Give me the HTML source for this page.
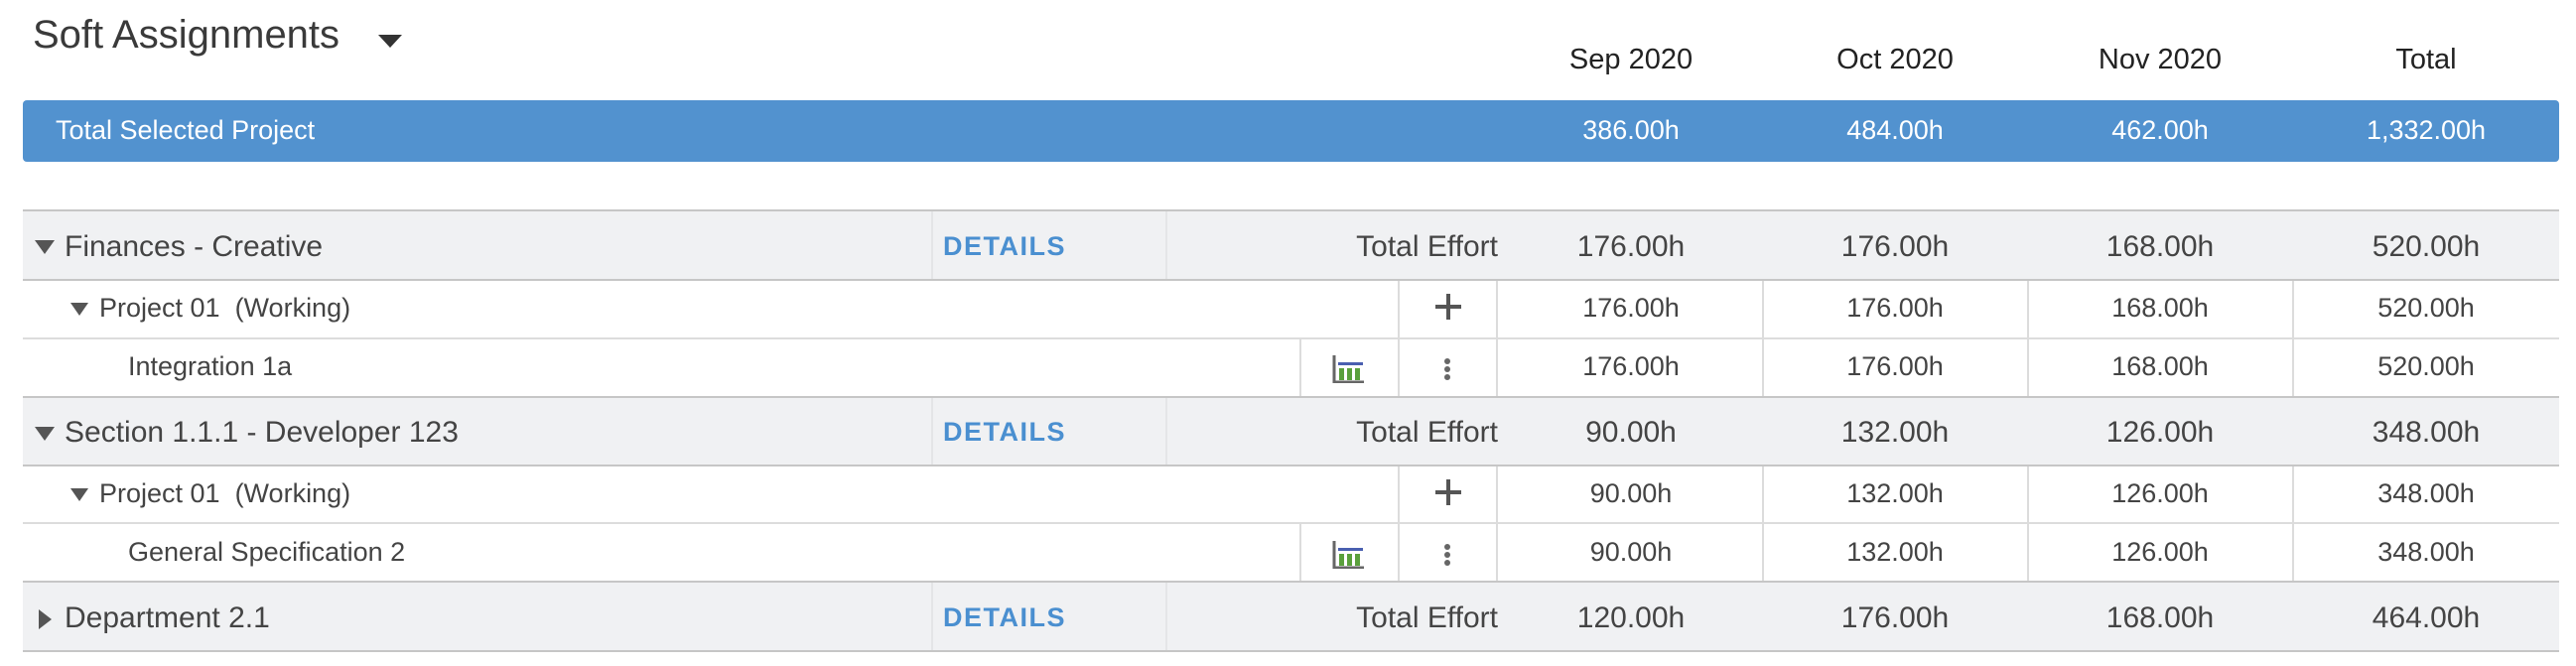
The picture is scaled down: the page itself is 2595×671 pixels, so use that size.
<!DOCTYPE html>
<html><head><meta charset="utf-8"><style>
*{margin:0;padding:0;box-sizing:border-box}
body{width:2595px;height:671px;background:#fff;position:relative;overflow:hidden;font-family:"Liberation Sans",sans-serif;color:#444}
.a{position:absolute;white-space:nowrap}
.c{position:absolute;text-align:center;width:260px;white-space:nowrap}
.hl{position:absolute;left:23px;width:2555px}
.vl{position:absolute;width:2px;background:#dcdcdc}
.grp{position:absolute;left:23px;width:2555px;background:#f0f1f3}
.det{position:absolute;left:950px;color:#4a8fd0;font-size:27px;font-weight:bold;letter-spacing:1.5px}
.g{font-size:30px}
.s{font-size:27px}
</style></head><body>
<div class="a" style="left:33px;top:13px;font-size:40px;color:#3a3a3a">Soft Assignments</div>
<div class="a" style="left:381px;top:35px;width:0;height:0;border-left:12px solid transparent;border-right:12px solid transparent;border-top:13px solid #333"></div>

<div class="c" style="left:1513px;top:44px;font-size:29px;color:#222">Sep 2020</div>
<div class="c" style="left:1779px;top:44px;font-size:29px;color:#222">Oct 2020</div>
<div class="c" style="left:2046px;top:44px;font-size:29px;color:#222">Nov 2020</div>
<div class="c" style="left:2314px;top:44px;font-size:29px;color:#222">Total</div>

<div class="a" style="left:23px;top:101px;width:2555px;height:62px;background:#5292cf;border-radius:4px"></div>
<div class="a s" style="left:56px;top:116px;color:#fff">Total Selected Project</div>
<div class="c s" style="left:1513px;top:116px;color:#fff">386.00h</div>
<div class="c s" style="left:1779px;top:116px;color:#fff">484.00h</div>
<div class="c s" style="left:2046px;top:116px;color:#fff">462.00h</div>
<div class="c s" style="left:2314px;top:116px;color:#fff">1,332.00h</div>

<div class="grp" style="top:212px;height:70px"></div>
<div class="grp" style="top:400px;height:69px"></div>
<div class="grp" style="top:586px;height:70px"></div>

<div class="vl" style="left:938px;top:212px;height:70px;background:#e4e5e7"></div>
<div class="vl" style="left:1174px;top:212px;height:70px;background:#e4e5e7"></div>
<div class="vl" style="left:938px;top:400px;height:69px;background:#e4e5e7"></div>
<div class="vl" style="left:1174px;top:400px;height:69px;background:#e4e5e7"></div>
<div class="vl" style="left:938px;top:586px;height:70px;background:#e4e5e7"></div>
<div class="vl" style="left:1174px;top:586px;height:70px;background:#e4e5e7"></div>

<div class="vl" style="left:1408px;top:282px;height:118px"></div>
<div class="vl" style="left:1507px;top:282px;height:118px"></div>
<div class="vl" style="left:1775px;top:282px;height:118px"></div>
<div class="vl" style="left:2042px;top:282px;height:118px"></div>
<div class="vl" style="left:2309px;top:282px;height:118px"></div>
<div class="vl" style="left:1309px;top:341px;height:59px"></div>
<div class="vl" style="left:1408px;top:469px;height:117px"></div>
<div class="vl" style="left:1507px;top:469px;height:117px"></div>
<div class="vl" style="left:1775px;top:469px;height:117px"></div>
<div class="vl" style="left:2042px;top:469px;height:117px"></div>
<div class="vl" style="left:2309px;top:469px;height:117px"></div>
<div class="vl" style="left:1309px;top:527px;height:59px"></div>

<div class="hl" style="top:211px;height:2px;background:#c6c6c6"></div>
<div class="hl" style="top:281px;height:2px;background:#c6c6c6"></div>
<div class="hl" style="top:340px;height:2px;background:#dcdcdc"></div>
<div class="hl" style="top:399px;height:2px;background:#c6c6c6"></div>
<div class="hl" style="top:468px;height:2px;background:#c6c6c6"></div>
<div class="hl" style="top:526px;height:2px;background:#dcdcdc"></div>
<div class="hl" style="top:585px;height:2px;background:#c6c6c6"></div>
<div class="hl" style="top:655px;height:2px;background:#c6c6c6"></div>

<div class="a" style="left:35px;top:242px;border-left:10px solid transparent;border-right:10px solid transparent;border-top:14px solid #555"></div>
<div class="a g" style="left:65px;top:232px">Finances - Creative</div>
<div class="det" style="top:233px">DETAILS</div>
<div class="a g" style="left:1309px;top:232px;width:200px;text-align:right">Total Effort</div>
<div class="c g" style="left:1513px;top:232px">176.00h</div>
<div class="c g" style="left:1779px;top:232px">176.00h</div>
<div class="c g" style="left:2046px;top:232px">168.00h</div>
<div class="c g" style="left:2314px;top:232px">520.00h</div>

<div class="a" style="left:71px;top:305px;border-left:9px solid transparent;border-right:9px solid transparent;border-top:13px solid #555"></div>
<div class="a s" style="left:100px;top:295px">Project 01 &nbsp;(Working)</div>
<div class="a" style="left:1446px;top:296px;width:26px;height:26px"><div class="a" style="left:0;top:11px;width:26px;height:4px;background:#555"></div><div class="a" style="left:11px;top:0;width:4px;height:26px;background:#555"></div></div>
<div class="c s" style="left:1513px;top:295px">176.00h</div>
<div class="c s" style="left:1779px;top:295px">176.00h</div>
<div class="c s" style="left:2046px;top:295px">168.00h</div>
<div class="c s" style="left:2314px;top:295px">520.00h</div>

<div class="a s" style="left:129px;top:354px">Integration 1a</div>
<svg class="a" style="left:1342px;top:358px" width="34" height="28"><path d="M2 0V27H32" stroke="#666" stroke-width="3" fill="none"/><rect x="6" y="7" width="25" height="3" fill="#4a5fb0"/><rect x="7" y="13" width="5" height="12" fill="#5aa03c"/><rect x="15" y="13" width="5" height="12" fill="#5aa03c"/><rect x="23" y="13" width="5" height="12" fill="#5aa03c"/></svg>
<svg class="a" style="left:1452px;top:360px" width="12" height="24"><circle cx="6" cy="4" r="3" fill="#666"/><circle cx="6" cy="12" r="3" fill="#666"/><circle cx="6" cy="20" r="3" fill="#666"/></svg>
<div class="c s" style="left:1513px;top:354px">176.00h</div>
<div class="c s" style="left:1779px;top:354px">176.00h</div>
<div class="c s" style="left:2046px;top:354px">168.00h</div>
<div class="c s" style="left:2314px;top:354px">520.00h</div>

<div class="a" style="left:35px;top:430px;border-left:10px solid transparent;border-right:10px solid transparent;border-top:14px solid #555"></div>
<div class="a g" style="left:65px;top:419px">Section 1.1.1 - Developer 123</div>
<div class="det" style="top:420px">DETAILS</div>
<div class="a g" style="left:1309px;top:419px;width:200px;text-align:right">Total Effort</div>
<div class="c g" style="left:1513px;top:419px">90.00h</div>
<div class="c g" style="left:1779px;top:419px">132.00h</div>
<div class="c g" style="left:2046px;top:419px">126.00h</div>
<div class="c g" style="left:2314px;top:419px">348.00h</div>

<div class="a" style="left:71px;top:492px;border-left:9px solid transparent;border-right:9px solid transparent;border-top:13px solid #555"></div>
<div class="a s" style="left:100px;top:482px">Project 01 &nbsp;(Working)</div>
<div class="a" style="left:1446px;top:483px;width:26px;height:26px"><div class="a" style="left:0;top:11px;width:26px;height:4px;background:#555"></div><div class="a" style="left:11px;top:0;width:4px;height:26px;background:#555"></div></div>
<div class="c s" style="left:1513px;top:482px">90.00h</div>
<div class="c s" style="left:1779px;top:482px">132.00h</div>
<div class="c s" style="left:2046px;top:482px">126.00h</div>
<div class="c s" style="left:2314px;top:482px">348.00h</div>

<div class="a s" style="left:129px;top:541px">General Specification 2</div>
<svg class="a" style="left:1342px;top:545px" width="34" height="28"><path d="M2 0V27H32" stroke="#666" stroke-width="3" fill="none"/><rect x="6" y="7" width="25" height="3" fill="#4a5fb0"/><rect x="7" y="13" width="5" height="12" fill="#5aa03c"/><rect x="15" y="13" width="5" height="12" fill="#5aa03c"/><rect x="23" y="13" width="5" height="12" fill="#5aa03c"/></svg>
<svg class="a" style="left:1452px;top:547px" width="12" height="24"><circle cx="6" cy="4" r="3" fill="#666"/><circle cx="6" cy="12" r="3" fill="#666"/><circle cx="6" cy="20" r="3" fill="#666"/></svg>
<div class="c s" style="left:1513px;top:541px">90.00h</div>
<div class="c s" style="left:1779px;top:541px">132.00h</div>
<div class="c s" style="left:2046px;top:541px">126.00h</div>
<div class="c s" style="left:2314px;top:541px">348.00h</div>

<div class="a" style="left:39px;top:614px;border-top:10px solid transparent;border-bottom:10px solid transparent;border-left:13px solid #555"></div>
<div class="a g" style="left:65px;top:606px">Department 2.1</div>
<div class="det" style="top:607px">DETAILS</div>
<div class="a g" style="left:1309px;top:606px;width:200px;text-align:right">Total Effort</div>
<div class="c g" style="left:1513px;top:606px">120.00h</div>
<div class="c g" style="left:1779px;top:606px">176.00h</div>
<div class="c g" style="left:2046px;top:606px">168.00h</div>
<div class="c g" style="left:2314px;top:606px">464.00h</div>
</body></html>
